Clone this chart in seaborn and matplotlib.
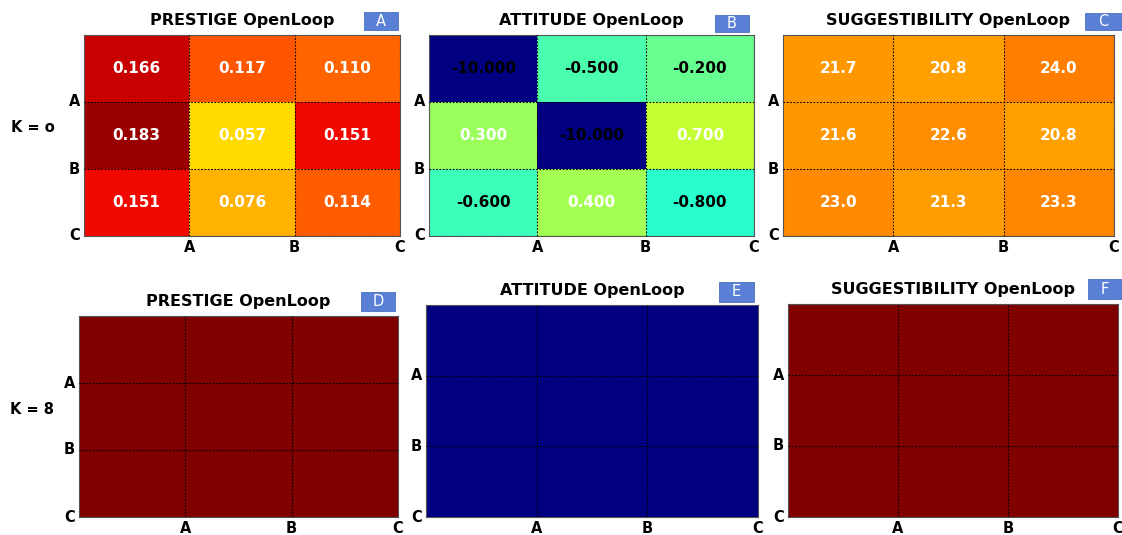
import seaborn as sns
import matplotlib.pyplot as plt
plt.switch_backend('agg')
import numpy as np
import pandas as pd
from matplotlib.patches import Rectangle

# values
labels = ['A', 'B', 'C']
titles = ['PRESTIGE OpenLoop', 'ATTITUDE OpenLoop', 'SUGGESTIBILITY OpenLoop']
panel_tags = ['A', 'B', 'C', 'D', 'E', 'F']
row_labels = ['K = o', 'K = 8']

prestige_k0 = [[0.166, 0.117, 0.110],
               [0.183, 0.057, 0.151],
               [0.151, 0.076, 0.114]]
attitude_k0 = [[-10.0, -0.5, -0.2],
               [0.3, -10.0, 0.7],
               [-0.6, 0.4, -0.8]]
suggest_k0 = [[21.7, 20.8, 24.0],
              [21.6, 22.6, 20.8],
              [23.0, 21.3, 23.3]]

# K = 8: no numbers printed, every cell saturates the colour scale
prestige_k8 = [[0.2, 0.2, 0.2],
               [0.2, 0.2, 0.2],
               [0.2, 0.2, 0.2]]
attitude_k8 = [[-10.0, -10.0, -10.0],
               [-10.0, -10.0, -10.0],
               [-10.0, -10.0, -10.0]]
suggest_k8 = [[50.0, 50.0, 50.0],
              [50.0, 50.0, 50.0],
              [50.0, 50.0, 50.0]]

W, H = 1122, 535
fig = plt.figure(figsize=(W / 100, H / 100), dpi=100)


def px_axes(x0, y0, x1, y1):
    return fig.add_axes([x0 / W, 1 - y1 / H, (x1 - x0) / W, (y1 - y0) / H])


def tag_box(x0, y0, x1, y1, letter):
    fig.add_artist(Rectangle((x0 / W, 1 - y1 / H), (x1 - x0) / W, (y1 - y0) / H,
                             transform=fig.transFigure, facecolor='#5a80d6',
                             edgecolor='#4a6fc0', linewidth=0.6))
    fig.text((x0 + x1) / 2 / W, 1 - (y0 + y1) / 2 / H, letter, color='white',
             fontsize=10.5, ha='center', va='center')


def draw(ax, data, vmin, vmax, title, annot, fmt='.3f'):
    df = pd.DataFrame(data, index=labels, columns=labels)
    sns.heatmap(df, ax=ax, cmap='jet', vmin=vmin, vmax=vmax, cbar=False,
                annot=annot, fmt=fmt,
                annot_kws=dict(size=11, weight='bold', color='white'))
    for t in ax.texts:
        if t.get_text().startswith('-'):
            t.set_color('black')
    ax.set_xticks([1, 2, 3])
    ax.set_xticklabels(labels, rotation=0, fontsize=10.5, fontweight='bold')
    ax.set_yticks([1, 2, 3])
    ax.set_yticklabels(labels, rotation=0, fontsize=10.5, fontweight='bold')
    ax.tick_params(length=0, pad=3)
    ax.grid(True, color='black', linestyle=(0, (1.5, 1.5)), linewidth=0.8)
    ax.set_axisbelow(False)
    for s in ax.spines.values():
        s.set_visible(True)
        s.set_color('#555555')
        s.set_linewidth(0.8)
    ax.set_title(title, fontsize=11.5, fontweight='bold', pad=7)
    ax.set_xlabel('')
    ax.set_ylabel('')


# top row, K = o
axA = px_axes(84, 35, 400, 236)
axB = px_axes(429, 35, 754, 236)
axC = px_axes(783, 35, 1114, 236)
draw(axA, prestige_k0, -0.227, 0.193, titles[0], True)
draw(axB, attitude_k0, -4.0, 4.0, titles[1], True)
draw(axC, suggest_k0, -42.0, 43.0, titles[2], True, fmt='.1f')

# bottom row, K = 8
axD = px_axes(79, 316, 398, 517)
axE = px_axes(426, 305, 758, 517)
axF = px_axes(788, 304, 1118, 517)
draw(axD, prestige_k8, -0.227, 0.193, titles[0], False)
draw(axE, attitude_k8, -4.0, 4.0, titles[1], False)
draw(axF, suggest_k8, -42.0, 43.0, titles[2], False)

tag_box(364, 12, 398, 30, panel_tags[0])
tag_box(715, 15, 749, 32, panel_tags[1])
tag_box(1085, 13, 1121, 30, panel_tags[2])
tag_box(361, 292, 395, 311, panel_tags[3])
tag_box(719, 282, 754, 302, panel_tags[4])
tag_box(1088, 279, 1121, 299, panel_tags[5])

fig.text(33 / W, 1 - 128 / H, row_labels[0], fontsize=10.5, fontweight='bold',
         ha='center', va='center')
fig.text(32 / W, 1 - 410 / H, row_labels[1], fontsize=10.5, fontweight='bold',
         ha='center', va='center')

fig.savefig('out.png', dpi=100)
plt.close()
